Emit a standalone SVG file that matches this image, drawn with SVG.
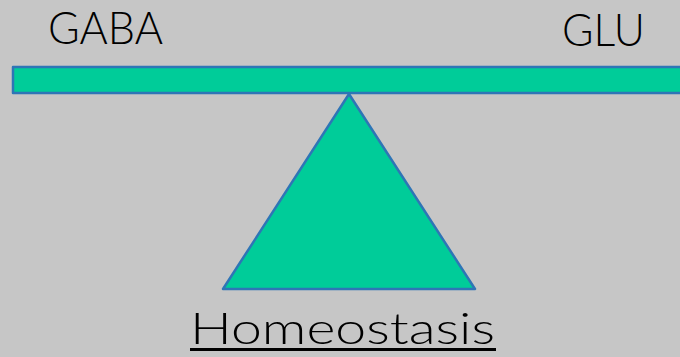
<svg xmlns="http://www.w3.org/2000/svg" width="680" height="357" viewBox="0 0 680 357">
<style>
.shape{fill:#00cc99;stroke:#2e75b6;stroke-width:2.5;stroke-linejoin:round}
.lbl{font-family:"Lato Light","Lato Hairline","Open Sans Light",Lato,"Liberation Sans",sans-serif;font-weight:300;fill:#000}
</style>
<rect width="680" height="357" fill="#c6c6c6"/>
<g id="beam"><rect class="shape" x="13" y="67" width="690" height="26"/></g>
<g id="fulcrum"><polygon class="shape" points="349,94 475,289 223,289"/></g>
<g id="gaba"><text class="lbl" x="48" y="44" font-size="46" textLength="115" lengthAdjust="spacingAndGlyphs">GABA</text></g>
<g id="glu"><text class="lbl" x="562" y="46" font-size="46" textLength="83" lengthAdjust="spacingAndGlyphs">GLU</text></g>
<g id="homeostasis"><text class="lbl" x="190" y="344" font-size="44" textLength="305" lengthAdjust="spacingAndGlyphs">Homeostasis</text>
<rect x="190" y="348" width="306" height="3" fill="#000"/></g>
<g id="connectors"/>
</svg>
